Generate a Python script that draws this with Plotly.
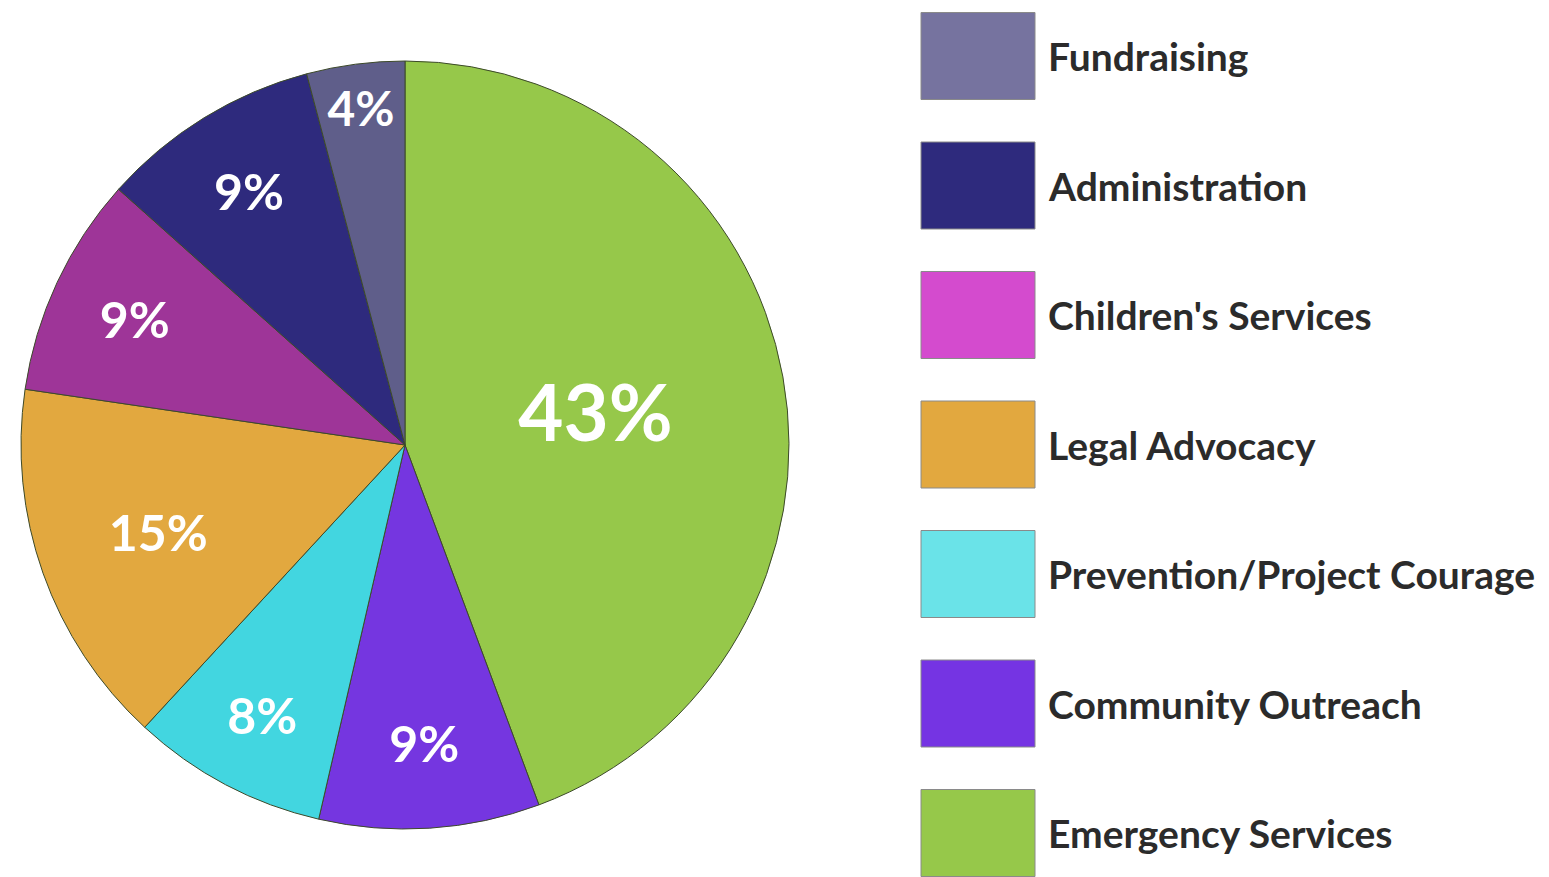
import plotly.graph_objects as go

W, H = 1549, 877
OFF = 8  # page body margin offset compensation

# Data (clockwise from 12 o'clock)
categories = ["Emergency Services", "Community Outreach", "Prevention/Project Courage",
              "Legal Advocacy", "Children's Services", "Administration", "Fundraising"]
values = [43, 9, 8, 15, 9, 9, 4]
slice_colors = ["#96C84A", "#7536E0", "#42D6E0", "#E2A83F", "#9E3598", "#2E2A7D", "#5F5E8A"]

# Legend (top to bottom)
legend_labels = ["Fundraising", "Administration", "Children's Services", "Legal Advocacy",
                 "Prevention/Project Courage", "Community Outreach", "Emergency Services"]
legend_colors = ["#76739F", "#2E2A7D", "#D44BCE", "#E2A83F", "#6AE3E8", "#7534E3", "#96C84A"]

cx, cy, r = 405 - OFF, 445 - OFF, 384


def px_x(x):
    return (x - OFF) / W


def px_y(y):
    return (H - (y - OFF)) / H


fig = go.Figure(go.Pie(
    labels=categories,
    values=values,
    sort=False,
    direction="clockwise",
    rotation=0,
    marker=dict(colors=slice_colors, line=dict(color="#3d4a2a", width=1)),
    texttemplate="%{value}%",
    textposition="inside",
    insidetextorientation="horizontal",
    textfont=dict(family="Lato", size=[78, 50, 50, 50, 50, 50, 48], color="white", weight="bold"),
    domain=dict(x=[(cx - r) / W, (cx + r) / W], y=[(H - cy - r) / H, (H - cy + r) / H]),
    showlegend=False,
    hoverinfo="label+value",
))

shapes = []
annotations = []
x0, x1 = 921, 1035
row_h = 87
first_center = 56
step = 129.5
for i, (lab, col) in enumerate(zip(legend_labels, legend_colors)):
    yc = first_center + i * step
    shapes.append(dict(type="rect", xref="paper", yref="paper",
                       x0=px_x(x0), x1=px_x(x1),
                       y0=px_y(yc + row_h / 2), y1=px_y(yc - row_h / 2),
                       fillcolor=col, line=dict(color="#8a8a8a", width=1)))
    annotations.append(dict(xref="paper", yref="paper", x=px_x(1046), y=px_y(yc),
                            xanchor="left", yanchor="middle", showarrow=False,
                            text=lab, font=dict(family="Lato", size=39, color="#2b2b2b", weight="bold")))

shapes.append(dict(type="rect", xref="paper", yref="paper", x0=px_x(1541), x1=1, y0=0, y1=1,
                   fillcolor="#ececec", line=dict(width=0), layer="below"))

fig.update_layout(
    width=W, height=H,
    margin=dict(l=0, r=0, t=0, b=0),
    paper_bgcolor="white",
    plot_bgcolor="white",
    shapes=shapes,
    annotations=annotations,
)

fig.write_html("out.html")
